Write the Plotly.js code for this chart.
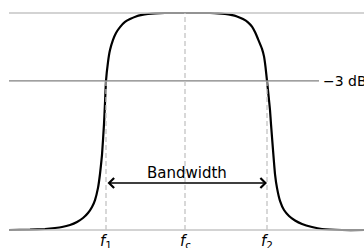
<!DOCTYPE html>
<html>
<head>
<meta charset="utf-8">
<script src="https://cdn.plot.ly/plotly-3.0.1.min.js"></script>
<style>html,body{margin:0;padding:0;background:#fff;}#chart{width:364px;height:248px;}</style>
</head>
<body>
<div id="chart"></div>
<script>
// Frequency axis (arbitrary units), magnitude (linear, passband = 1)
const freq = [9, 30, 45, 55, 62, 70, 77, 83, 88, 92, 95, 98, 100, 102, 104, 105, 106, 108, 110, 113, 116, 120, 125, 130, 136, 142, 148, 155, 165, 186,
              210, 218, 225, 231, 237, 243, 248, 252, 255, 258, 262, 264, 265.5, 267, 268.5, 270, 271, 273, 275, 277, 280, 284, 289, 295, 302, 312, 322, 342, 370];
const magnitude = [0, 0.0014, 0.0046, 0.0092, 0.0138, 0.023, 0.0369, 0.0553, 0.0783, 0.106, 0.138, 0.194, 0.258, 0.346, 0.488, 0.585, 0.687, 0.774, 0.829, 0.876, 0.908, 0.935, 0.959, 0.972, 0.984, 0.991, 0.9954, 0.9986, 1.0, 1.0,
              1.0, 0.9986, 0.9954, 0.991, 0.984, 0.972, 0.957, 0.937, 0.912, 0.88, 0.835, 0.80, 0.752, 0.687, 0.622, 0.553, 0.488, 0.369, 0.258, 0.194, 0.134, 0.092, 0.0645, 0.0438, 0.0276, 0.0138, 0.0046, 0, 0];

const passLevel = 1.0;
const halfPowerLevel = 0.687;
const baseLevel = 0;
const halfPowerLabel = "\u22123 dB";
const markFreqs = [106, 185, 267];           // f1, fc, f2
const markLabels = ["<i>f</i><sub>1</sub>", "<i>f</i><sub>c</sub>", "<i>f</i><sub>2</sub>"];
const bandwidthLabel = "Bandwidth";
const arrowLevel = 0.2166;
const xStart = 9, xEnd = 380, halfLineEnd = 319;

const light = "#c4c4c4", mid = "#808080";
const shapes = [
  {type: "line", xref: "x", yref: "y", x0: xStart, x1: xEnd, y0: passLevel, y1: passLevel, line: {color: light, width: 1.5}},
  {type: "line", xref: "x", yref: "y", x0: xStart, x1: halfLineEnd, y0: halfPowerLevel, y1: halfPowerLevel, line: {color: mid, width: 1.3}},
  {type: "line", xref: "x", yref: "y", x0: xStart, x1: xEnd, y0: baseLevel, y1: baseLevel, line: {color: light, width: 1.5}},
  {type: "line", xref: "x", yref: "y", x0: markFreqs[0], x1: markFreqs[0], y0: baseLevel, y1: halfPowerLevel, line: {color: light, width: 1.3, dash: "5px,3px"}},
  {type: "line", xref: "x", yref: "y", x0: markFreqs[1], x1: markFreqs[1], y0: baseLevel, y1: passLevel, line: {color: light, width: 1.3, dash: "5px,3px"}},
  {type: "line", xref: "x", yref: "y", x0: markFreqs[2], x1: markFreqs[2], y0: baseLevel, y1: halfPowerLevel, line: {color: light, width: 1.3, dash: "5px,3px"}}
];

const annotations = [
  {x: markFreqs[2], y: arrowLevel, ax: markFreqs[0], ay: arrowLevel, axref: "x", ayref: "y", xref: "x", yref: "y",
   text: "", showarrow: true, arrowside: "end+start", arrowhead: 4, startarrowhead: 4, arrowsize: 1.3, startarrowsize: 1.3,
   arrowwidth: 1.5, arrowcolor: "#000", standoff: 0, startstandoff: 0},
  {x: (markFreqs[0] + markFreqs[2]) / 2 + 0.5, y: arrowLevel, xref: "x", yref: "y", yanchor: "bottom", yshift: -1,
   text: bandwidthLabel, showarrow: false, font: {family: "DejaVu Sans", size: 15, color: "#000"}},
  {x: halfLineEnd + 2, y: halfPowerLevel, xref: "x", yref: "y", xanchor: "left", yanchor: "middle",
   text: halfPowerLabel, showarrow: false, font: {family: "DejaVu Sans", size: 14, color: "#000"}}
];
markFreqs.forEach((f, i) => annotations.push({
  x: f, y: baseLevel, xref: "x", yref: "y", xanchor: "center", yanchor: "top", yshift: -0,
  text: markLabels[i], showarrow: false, font: {family: "DejaVu Sans", size: 15, color: "#000"}
}));

const trace = {x: freq, y: magnitude, type: "scatter", mode: "lines",
  line: {color: "#000", width: 2.2, shape: "spline", smoothing: 0.4}, hoverinfo: "skip"};

const layout = {
  width: 364, height: 248,
  margin: {l: 0, r: 0, t: 0, b: 0},
  paper_bgcolor: "#fff", plot_bgcolor: "#fff",
  showlegend: false,
  xaxis: {range: [0, 364], visible: false, fixedrange: true},
  yaxis: {range: [-18 / 217, 1 + 13 / 217], visible: false, fixedrange: true},
  shapes: shapes,
  annotations: annotations
};

Plotly.newPlot("chart", [trace], layout, {staticPlot: true, displayModeBar: false});
</script>
</body>
</html>
